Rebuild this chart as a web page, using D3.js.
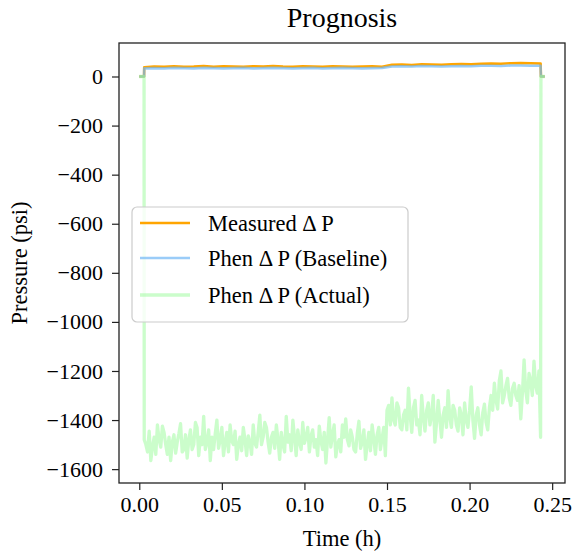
<!DOCTYPE html>
<html>
<head>
<meta charset="utf-8">
<script src="https://cdn.jsdelivr.net/npm/d3@7"></script>
<style>
  body { margin: 0; background: #fff; }
  text { font-family: "Liberation Serif", "Times New Roman", serif; fill: #000; }
</style>
</head>
<body>
<svg width="576" height="556"></svg>
<script>
// series names as in the legend
const seriesNames = ['Measured \u0394 P', 'Phen \u0394 P (Baseline)', 'Phen \u0394 P (Actual)']

// idle (zero pressure) samples before and after the run, hours
const idleBefore = [0, 0.0029]
const idleAfter = [0.2432, 0.2455]

// measured + baseline: sampled every 0.006 h from 0.003 h
const slowStart = 0.003, slowStep = 0.006
const measuredValues = [38, 41, 40, 42, 40, 41, 43, 40, 42, 41, 40, 42, 41, 43, 41, 40, 42, 41, 40, 42, 41, 40, 41, 42, 40,
  48, 49, 47, 50, 49, 48, 50, 51, 50, 52, 53, 52, 54, 55, 54, 53]
const baselineValues = [33, 34, 33, 35, 34, 33, 35, 34, 33, 34, 35, 33, 34, 35, 34, 33, 34, 35, 33, 34, 35, 34, 33, 34, 35,
  41, 42, 41, 43, 42, 41, 42, 43, 42, 44, 44, 43, 45, 45, 44, 44]

// actual: sampled every 0.001 h from 0.003 h
const fastStart = 0.003, fastStep = 0.001
const actualValues = [
  -1480, -1500, -1530, -1445, -1565, -1510, -1470, -1540, -1420, -1480,
  -1510, -1425, -1450, -1500, -1540, -1470, -1565, -1490, -1460, -1535,
  -1490, -1455, -1415, -1530, -1520, -1460, -1555, -1480, -1440, -1520,
  -1500, -1410, -1430, -1545, -1470, -1500, -1385, -1520, -1490, -1440,
  -1565, -1470, -1520, -1455, -1400, -1515, -1480, -1430, -1545, -1490,
  -1450, -1530, -1420, -1485, -1500, -1445, -1560, -1500, -1470, -1525,
  -1430, -1480, -1545, -1465, -1490, -1540, -1420, -1495, -1510, -1450,
  -1380, -1500, -1470, -1410, -1430, -1490, -1535, -1470, -1450, -1515,
  -1420, -1480, -1560, -1450, -1500, -1530, -1385, -1490, -1460, -1525,
  -1400, -1470, -1545, -1440, -1490, -1520, -1410, -1495, -1470, -1430,
  -1530, -1465, -1440, -1510, -1480, -1545, -1425, -1485, -1520, -1450,
  -1575, -1480, -1390, -1510, -1460, -1420, -1550, -1500, -1480, -1530,
  -1420, -1470, -1395, -1480, -1505, -1440, -1470, -1520, -1530, -1455,
  -1405, -1515, -1490, -1440, -1560, -1500, -1450, -1525, -1420, -1475,
  -1540, -1460, -1430, -1520, -1475, -1430, -1545, -1360, -1340, -1420,
  -1310, -1400, -1420, -1330, -1350, -1430, -1440, -1380, -1360, -1440,
  -1270, -1380, -1450, -1350, -1320, -1420, -1400, -1460, -1300, -1390,
  -1445, -1360, -1330, -1420, -1380, -1300, -1490, -1410, -1320, -1400,
  -1470, -1380, -1350, -1430, -1280, -1390, -1430, -1340, -1360, -1420,
  -1445, -1350, -1380, -1460, -1330, -1400, -1430, -1360, -1265, -1400,
  -1475, -1380, -1350, -1420, -1460, -1370, -1335, -1410, -1440, -1350,
  -1300, -1360, -1250, -1320, -1355, -1240, -1200, -1330, -1300, -1260,
  -1230, -1310, -1340, -1270, -1250, -1300, -1320, -1260, -1395, -1290,
  -1155, -1280, -1330, -1210, -1240, -1300, -1160, -1260, -1290, -1200,
  -1470]

const xTicks = [0, 0.05, 0.10, 0.15, 0.20, 0.25]
const yTicks = [-1600, -1400, -1200, -1000, -800, -600, -400, -200, 0]

const svg = d3.select('svg')
const margin = { top: 43, right: 11, bottom: 73, left: 119 }
const width = svg.attr('width') - margin.left - margin.right
const height = svg.attr('height') - margin.top - margin.bottom

const build = (start, step, values) => [
  ...idleBefore.map(t => ({ t: t, v: 0 })),
  ...values.map((v, i) => ({ t: start + i * step, v: v })),
  ...idleAfter.map(t => ({ t: t, v: 0 }))
]

const series = [
  { name: seriesNames[0], color: '#ffa500', opacity: 1, width: 2.6, data: build(slowStart, slowStep, measuredValues) },
  { name: seriesNames[1], color: '#6fb6f5', opacity: 0.7, width: 2.6, data: build(slowStart, slowStep, baselineValues) },
  { name: seriesNames[2], color: '#98fb98', opacity: 0.5, width: 3.3, data: build(fastStart, fastStep, actualValues) }
]

const all = series.flatMap(s => s.data)
const pad = (ext) => { const p = (ext[1] - ext[0]) * 0.05; return [ext[0] - p, ext[1] + p] }

const x = d3.scaleLinear().domain(pad(d3.extent(all, d => d.t))).range([0, width])
const y = d3.scaleLinear().domain(pad(d3.extent(all, d => d.v))).range([height, 0])

const g = svg.append('g').attr('transform', `translate(${margin.left},${margin.top})`)

g.append('clipPath').attr('id', 'clip')
  .append('rect').attr('width', width).attr('height', height)

const line = d3.line().x(d => x(d.t)).y(d => y(d.v))

g.append('g').attr('clip-path', 'url(#clip)')
  .selectAll('path')
  .data(series)
  .enter().append('path')
  .attr('d', d => line(d.data))
  .attr('fill', 'none')
  .attr('stroke', d => d.color)
  .attr('stroke-opacity', d => d.opacity)
  .attr('stroke-width', d => d.width)
  .attr('stroke-linejoin', 'round')

// axes
const xAxis = g.append('g')
  .attr('transform', `translate(0,${height})`)
  .call(d3.axisBottom(x).tickValues(xTicks).tickFormat(d3.format('.2f')).tickSizeInner(7).tickSizeOuter(0).tickPadding(6))
const yAxis = g.append('g')
  .call(d3.axisLeft(y).tickValues(yTicks).tickFormat(d3.format('d')).tickSizeInner(7).tickSizeOuter(0).tickPadding(9))

;[xAxis, yAxis].forEach(a => {
  a.select('.domain').remove()
  a.selectAll('line').attr('stroke', '#222').attr('stroke-width', 1.2)
  a.selectAll('text').attr('font-size', 22).attr('font-family', '"Liberation Serif", serif').attr('fill', '#000')
})

g.append('rect')
  .attr('width', width).attr('height', height)
  .attr('fill', 'none').attr('stroke', '#222').attr('stroke-width', 1.3)

// labels
svg.append('text')
  .attr('x', margin.left + width / 2).attr('y', 27)
  .attr('text-anchor', 'middle').attr('font-size', 28)
  .text('Prognosis')

svg.append('text')
  .attr('x', margin.left + width / 2).attr('y', 546)
  .attr('text-anchor', 'middle').attr('font-size', 22.5)
  .text('Time (h)')

svg.append('text')
  .attr('transform', `translate(27,${margin.top + height / 2}) rotate(-90)`)
  .attr('text-anchor', 'middle').attr('font-size', 22.5)
  .text('Pressure (psi)')

// legend
const legend = svg.append('g').attr('transform', 'translate(132,207)')
legend.append('rect')
  .attr('width', 276).attr('height', 115).attr('rx', 5)
  .attr('fill', '#fff').attr('fill-opacity', 0.8)
  .attr('stroke', '#ccc').attr('stroke-width', 1.2)

const item = legend.selectAll('.item')
  .data(series)
  .enter().append('g')
  .attr('class', 'item')
  .attr('transform', (d, i) => `translate(0,${[16, 51, 88][i]})`)

item.append('line')
  .attr('x1', 8).attr('x2', 58)
  .attr('stroke', d => d.color)
  .attr('stroke-opacity', d => d.opacity)
  .attr('stroke-width', d => d.width)

item.append('text')
  .attr('x', 76).attr('dy', '0.35em')
  .attr('font-size', 22.5)
  .text(d => d.name)
</script>
</body>
</html>
